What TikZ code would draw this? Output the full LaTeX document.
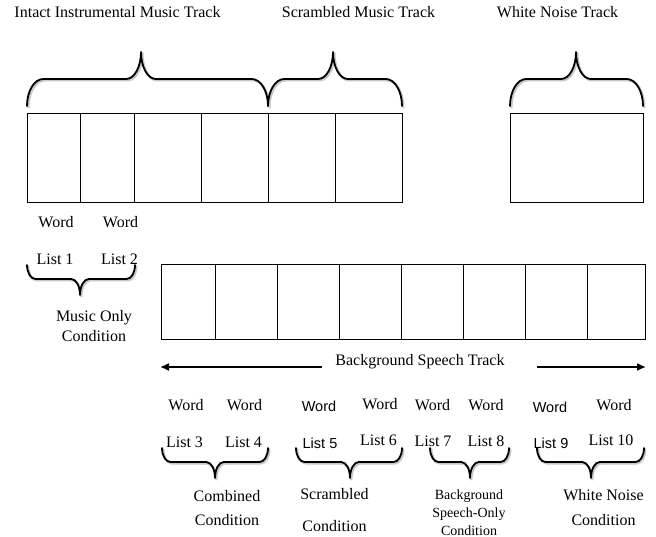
\documentclass[tikz,border=0pt]{standalone}
\usepackage{fontspec}
\setmainfont{Liberation Serif}
\newfontfamily\sanslbl{Liberation Sans}
\usetikzlibrary{arrows.meta}

\tikzset{
  cell/.style={draw, line width=0.9pt, anchor=north west, inner sep=0pt},
  topcell/.style={cell, minimum height=89pt},
  botcell/.style={cell, minimum height=75pt},
  brace/.style={line width=1.8pt, line cap=round, line join=round},
  braceshadow/.style={line width=2.4pt, draw=black!22, line cap=round, line join=round},
  trackarrow/.style={line width=1.6pt, -{Triangle[length=8pt,width=7pt]}},
  lbl/.style={inner sep=0pt, anchor=base, font=\fontsize{16}{20}\selectfont},
  slbl/.style={inner sep=0pt, anchor=base, font=\sanslbl\fontsize{14.5}{18}\selectfont},
  cond/.style={inner sep=0pt, anchor=north, align=center, font=\fontsize{16}{20}\selectfont},
}

% curly brace: #1,#2 end x, #3 tip x, #4 end y, #5 middle y, #6 tip y
\newcommand\curlypath[6]{%
  (#1,#4) .. controls (#1,{#4+0.552*(#5-#4)}) and ({#1+0.448*\ra},#5) .. ({#1+\ra},#5)
  -- ({#3-\rb},#5) .. controls ({#3-0.448*\rb},#5) and (#3,{#6+0.552*(#5-#6)}) .. (#3,#6)
  .. controls (#3,{#6+0.552*(#5-#6)}) and ({#3+0.448*\rb},#5) .. ({#3+\rb},#5)
  -- ({#2-\ra},#5) .. controls ({#2-0.448*\ra},#5) and (#2,{#4+0.552*(#5-#4)}) .. (#2,#4)}
\newcommand\curly[6]{%
  \pgfmathsetmacro\ra{0.6*abs(#4-#5)}%
  \pgfmathsetmacro\rb{0.55*abs(#6-#5)}%
  \draw[braceshadow, shift={(1.3,1.3)}] \curlypath{#1}{#2}{#3}{#4}{#5}{#6};
  \draw[brace] \curlypath{#1}{#2}{#3}{#4}{#5}{#6};
}

\begin{document}
\begin{tikzpicture}[x=1pt, y=-1pt]
\useasboundingbox[fill=white] (0,0) rectangle (656,537);

% track titles
\node[lbl] (tIntact) at (117.5,18) {Intact Instrumental Music Track};
\node[lbl] (tScram)  at (358.5,18) {Scrambled Music Track};
\node[lbl] (tNoise)  at (557.5,18) {White Noise Track};

% music / noise tracks
\node[topcell, minimum width=53pt] (t1) at (27,113) {};
\node[topcell, minimum width=54pt] (t2) at (80,113) {};
\node[topcell, minimum width=67pt] (t3) at (134,113) {};
\node[topcell, minimum width=67pt] (t4) at (201,113) {};
\node[topcell, minimum width=67pt] (t5) at (268,113) {};
\node[topcell, minimum width=67pt] (t6) at (335,113) {};
\node[topcell, minimum width=133pt] (wn) at (510,113) {};

% braces over the tracks
\curly{27}{268}{141}{106}{79}{52}
\curly{268}{402}{333}{106}{79}{52}
\curly{510}{643}{576}{106}{79}{52}

% music only condition
\node[lbl] (w1) at (56,228) {Word};
\node[lbl] (w2) at (120.5,228) {Word};
\node[lbl] (l1) at (55,265) {List 1};
\node[lbl] (l2) at (119.5,265) {List 2};
\curly{27}{135}{80}{265}{279}{295}
\node[cond] (cMusic) at (94,310) {Music Only\\Condition};

% background speech track
\node[botcell, minimum width=54pt] (b1) at (161,264) {};
\node[botcell, minimum width=62pt] (b2) at (215,264) {};
\node[botcell, minimum width=62pt] (b3) at (277,264) {};
\node[botcell, minimum width=62pt] (b4) at (339,264) {};
\node[botcell, minimum width=62pt] (b5) at (401,264) {};
\node[botcell, minimum width=62pt] (b6) at (463,264) {};
\node[botcell, minimum width=62pt] (b7) at (525,264) {};
\node[botcell, minimum width=58pt] (b8) at (587,264) {};

\node[lbl] (tSpeech) at (420,365) {Background Speech Track};
\coordinate (aLs) at (322,367);
\coordinate (aLe) at (161,367);
\coordinate (aRs) at (537,367);
\coordinate (aRe) at (645,367);
\draw[black!22, line width=2pt, shift={(1.2,1.2)}] (aLs) -- (aLe);
\draw[black!22, line width=2pt, shift={(1.2,1.2)}] (aRs) -- (aRe);
\draw[trackarrow] (aLs) -- (aLe);
\draw[trackarrow] (aRs) -- (aRe);

% word lists
\node[lbl]  (w3)  at (186,410) {Word};
\node[lbl]  (w4)  at (244.5,410) {Word};
\node[slbl] (w5)  at (319,411) {Word};
\node[lbl]  (w6)  at (380,409) {Word};
\node[lbl]  (w7)  at (432.5,410) {Word};
\node[lbl]  (w8)  at (486,410) {Word};
\node[slbl] (w9)  at (550,412) {Word};
\node[lbl]  (w10) at (614,410) {Word};

\node[lbl]  (l3)  at (184.5,447) {List 3};
\node[lbl]  (l4)  at (243.5,447) {List 4};
\node[slbl] (l5)  at (320,448) {List 5};
\node[lbl]  (l6)  at (378.5,445) {List 6};
\node[lbl]  (l7)  at (433,446) {List 7};
\node[lbl]  (l8)  at (486,446) {List 8};
\node[slbl] (l9)  at (551,448) {List 9};
\node[lbl]  (l10) at (611,445) {List 10};

% condition braces
\curly{162}{268}{215}{448}{462}{478}
\curly{296}{402}{350}{448}{462}{478}
\curly{430}{509}{470}{448}{462}{478}
\curly{537}{644}{591}{448}{462}{478}

\node[cond] (cComb)  at (227,490) {Combined\\[4pt]Condition};
\node[cond] (cScram) at (334.5,488) {Scrambled\\[12pt]Condition};
\node[cond, font=\fontsize{14}{18}\selectfont] (cSpeech) at (469,489.5) {Background\\Speech-Only\\Condition};
\node[cond] (cNoise) at (603.5,489) {White Noise\\[5pt]Condition};
\end{tikzpicture}
\end{document}
